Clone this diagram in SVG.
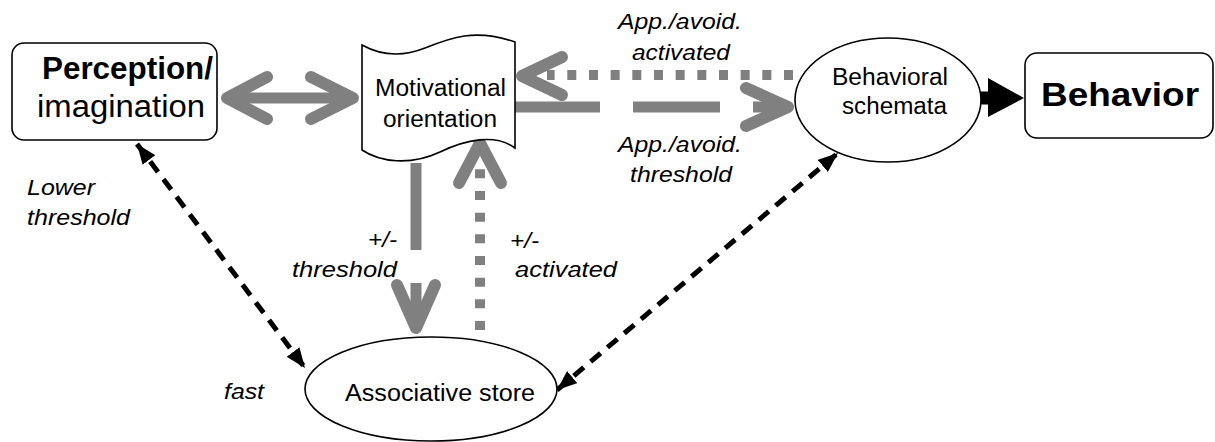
<svg xmlns="http://www.w3.org/2000/svg" width="1215" height="442" viewBox="0 0 1215 442">
<style>
.node{fill:#fff;stroke:#000;stroke-width:1.6}
.t{font-family:"Liberation Sans",Arial,sans-serif;font-size:23px;fill:#000}
.big{font-family:"Liberation Sans",Arial,sans-serif;font-size:31px;fill:#000}
.lab{font-family:"Liberation Sans",Arial,sans-serif;font-size:22px;font-style:italic;fill:#000}
.g{fill:none;stroke:#808080;stroke-width:11}
.gdash{stroke-dasharray:87 33}
.gdot{stroke-width:10;stroke-dasharray:9 12.67}
.chev{fill:none;stroke:#808080;stroke-width:12;stroke-linecap:round;stroke-linejoin:round}
.bd{fill:none;stroke:#000;stroke-width:5;stroke-dasharray:13 9}
</style>
<defs>
<marker id="ah" viewBox="0 0 20 16" refX="20" refY="8" markerWidth="20" markerHeight="16" markerUnits="userSpaceOnUse" orient="auto-start-reverse">
<path d="M0,0 L20,8 L0,16 Z" fill="#000"/>
</marker>
</defs>

<g id="connectors">
<!-- Perception <-> Motivational -->
<line class="g" x1="230" y1="98" x2="350" y2="98"/>
<polyline class="chev" points="267,77 227,98 267,119"/>
<polyline class="chev" points="311,77 353,98 311,119"/>
<!-- Behavioral -> Motivational (activated, dotted) -->
<line class="g gdot" x1="793" y1="75" x2="547" y2="75"/>
<polyline class="chev" points="562,57 522,76 562,95"/>
<!-- Motivational -> Behavioral (threshold, dashed) -->
<line class="g gdash" x1="513" y1="107" x2="788" y2="107"/>
<polyline class="chev" points="746,88 788,107 746,126"/>
<!-- Motivational -> Associative (threshold, dashed) -->
<line class="g gdash" x1="416" y1="163" x2="416" y2="328"/>
<polyline class="chev" points="397,285 416,328 435,285"/>
<!-- Associative -> Motivational (activated, dotted) -->
<line class="g gdot" x1="480" y1="330" x2="480" y2="160"/>
<polyline class="chev" points="459,183 480,143 501,183"/>
<!-- black dashed -->
<line class="bd" x1="137" y1="144" x2="305" y2="368" marker-start="url(#ah)" marker-end="url(#ah)"/>
<line class="bd" x1="557" y1="390" x2="838" y2="153" marker-start="url(#ah)" marker-end="url(#ah)"/>
<!-- Behavioral -> Behavior -->
<line x1="980" y1="98" x2="992" y2="98" stroke="#000" stroke-width="13"/>
<polygon points="988,78 1024,98 988,117" fill="#000"/>
</g>

<g id="perception">
<rect class="node" x="12" y="43" width="205" height="97" rx="12"/>
<text class="big" x="42" y="79" font-weight="bold" textLength="171" lengthAdjust="spacingAndGlyphs">Perception/</text>
<text class="big" x="37" y="117" textLength="168" lengthAdjust="spacingAndGlyphs">imagination</text>
</g>

<g id="motivational">
<path class="node" d="M362,45 C380,55 400,58 425,48 C450,38 475,28 515,42 L515,148 C495,133 465,140 440,152 C410,166 380,162 362,150 Z"/>
<text class="t" x="375" y="96" textLength="131" lengthAdjust="spacingAndGlyphs">Motivational</text>
<text class="t" x="383" y="127" textLength="114" lengthAdjust="spacingAndGlyphs">orientation</text>
</g>

<g id="behavioral">
<ellipse class="node" cx="888" cy="100" rx="93" ry="62"/>
<text class="t" x="832" y="85" textLength="116" lengthAdjust="spacingAndGlyphs">Behavioral</text>
<text class="t" x="842" y="114" textLength="105" lengthAdjust="spacingAndGlyphs">schemata</text>
</g>

<g id="behavior">
<rect class="node" x="1025" y="53" width="188" height="85" rx="12"/>
<text x="1041" y="106" font-family="'Liberation Sans',Arial,sans-serif" font-size="33" font-weight="bold" textLength="158" lengthAdjust="spacingAndGlyphs">Behavior</text>
</g>

<g id="associative">
<ellipse class="node" cx="431" cy="389" rx="126" ry="52"/>
<text class="t" x="345" y="401" textLength="190" lengthAdjust="spacingAndGlyphs">Associative store</text>
</g>

<g id="labels">
<text class="lab" x="618" y="29" textLength="124" lengthAdjust="spacingAndGlyphs">App./avoid.</text>
<text class="lab" x="632" y="60" textLength="98" lengthAdjust="spacingAndGlyphs">activated</text>
<text class="lab" x="618" y="152" textLength="124" lengthAdjust="spacingAndGlyphs">App./avoid.</text>
<text class="lab" x="630" y="182" textLength="102" lengthAdjust="spacingAndGlyphs">threshold</text>
<text class="lab" x="27" y="195" textLength="68" lengthAdjust="spacingAndGlyphs">Lower</text>
<text class="lab" x="27" y="225" textLength="103" lengthAdjust="spacingAndGlyphs">threshold</text>
<text class="lab" x="368" y="247" textLength="29" lengthAdjust="spacingAndGlyphs">+/-</text>
<text class="lab" x="292" y="277" textLength="105" lengthAdjust="spacingAndGlyphs">threshold</text>
<text class="lab" x="510" y="248" textLength="29" lengthAdjust="spacingAndGlyphs">+/-</text>
<text class="lab" x="515" y="277" textLength="102" lengthAdjust="spacingAndGlyphs">activated</text>
<text class="lab" x="224" y="399" textLength="40" lengthAdjust="spacingAndGlyphs">fast</text>
</g>
</svg>
